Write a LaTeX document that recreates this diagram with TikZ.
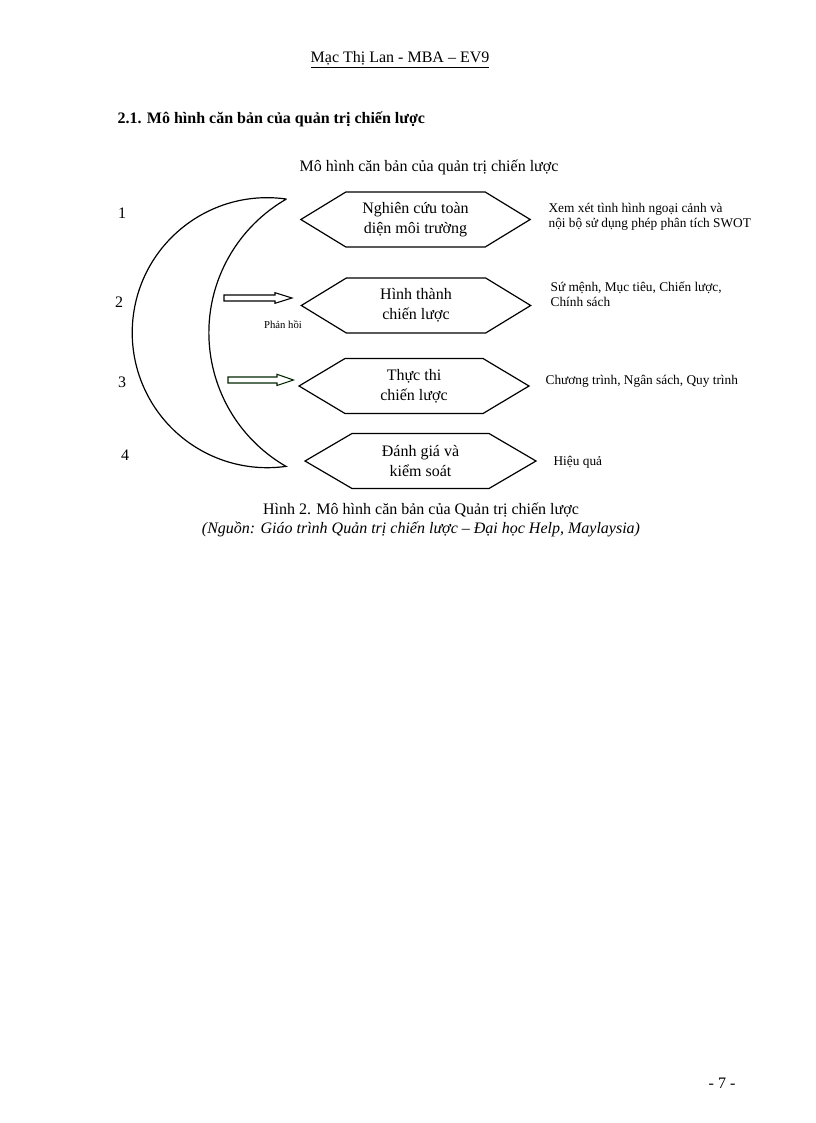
\documentclass[tikz,border=0pt]{standalone}
\usepackage{fontspec}
\setmainfont{Liberation Serif}

% six-sided outline round a step node
\newcommand{\hexoutline}[2]{%
  \draw (#1.west) -- ([xshift=#2]#1.north west) -- ([xshift=-#2]#1.north east)
    -- (#1.east) -- ([xshift=-#2]#1.south east) -- ([xshift=#2]#1.south west) -- cycle;}

\begin{document}
\begin{tikzpicture}[
    x=0.75pt, y=-0.75pt,
    font=\fontsize{12}{14}\selectfont,
    line width=0.9pt,
    hexbox/.style={minimum width=172pt, minimum height=41.25pt, inner sep=0pt,
      outer sep=0pt, align=center, font=\fontsize{12}{15}\selectfont},
    side/.style={anchor=west, align=left, inner sep=0pt, font=\fontsize{10}{11.5}\selectfont},
    num/.style={inner sep=0pt}
  ]
    \useasboundingbox (0,0) rectangle (816,1123);

    % page head
    \node (head) at (400,60) {\underline{Mạc Thị Lan - MBA – EV9}};
    \node[anchor=west, inner sep=0pt, font=\fontsize{12}{14}\bfseries] (sec) at (117,119)
      {2.1. Mô hình căn bản của quản trị chiến lược};
    \node (title) at (429,167) {Mô hình căn bản của quản trị chiến lược};

    % the moon
    \draw (286,199) arc[start angle=-82, end angle=-278, radius=135]
      arc[start angle=-240, end angle=-120, radius=154.2] -- cycle;

    \node[num] (num1) at (122,213) {1};
    \node[num] (num2) at (119,302) {2};
    \node[num] (num3) at (122,382) {3};
    \node[num] (num4) at (125,455) {4};

    % steps
    \node[hexbox] (env) at (415.5,219.5) {Nghiên cứu toàn\\diện môi trường};
    \node[hexbox] (form) at (416,305.5) {Hình thành\\chiến lược};
    \node[hexbox, minimum width=172.5pt] (impl) at (414,386) {Thực thi\\chiến lược};
    \node[hexbox, minimum width=173.25pt] (eval) at (420.5,461) {Đánh giá và\\kiểm soát};
    \hexoutline{env}{33.75pt}
    \hexoutline{form}{33.75pt}
    \hexoutline{impl}{34.5pt}
    \hexoutline{eval}{35.25pt}

    \node[side] (envtxt) at (548,216.5) {Xem xét tình hình ngoại cảnh và\\nội bộ sử dụng phép phân tích SWOT};
    \node[side] (formtxt) at (550,294.5) {Sứ mệnh, Mục tiêu, Chiến lược,\\Chính sách};
    \node[side] (impltxt) at (545,381) {Chương trình, Ngân sách, Quy trình};
    \node[side] (evaltxt) at (553,462) {Hiệu quả};

    % block arrows
    \draw[line width=0.8pt] (224,295) -- (275,295) -- (275,292.7) -- (292,298)
      -- (275,303.3) -- (275,301) -- (224,301) -- cycle;
    \node[font=\fontsize{8}{9}\selectfont] (fb) at (283,325) {Phản hồi};
    \draw[line width=0.8pt, draw=black!85!green] (228,377) -- (277,377) -- (277,374.3)
      -- (293.5,380) -- (277,385.5) -- (277,383) -- (228,383) -- cycle;

    % caption
    \node (cap) at (421,510) {Hình 2. Mô hình căn bản của Quản trị chiến lược};
    \node[font=\fontsize{12}{14}\itshape] (src) at (421,529)
      {(Nguồn: Giáo trình Quản trị chiến lược – Đại học Help, Maylaysia)};

    \node (page) at (722,1083) {- 7 -};
  \end{tikzpicture}
\end{document}
